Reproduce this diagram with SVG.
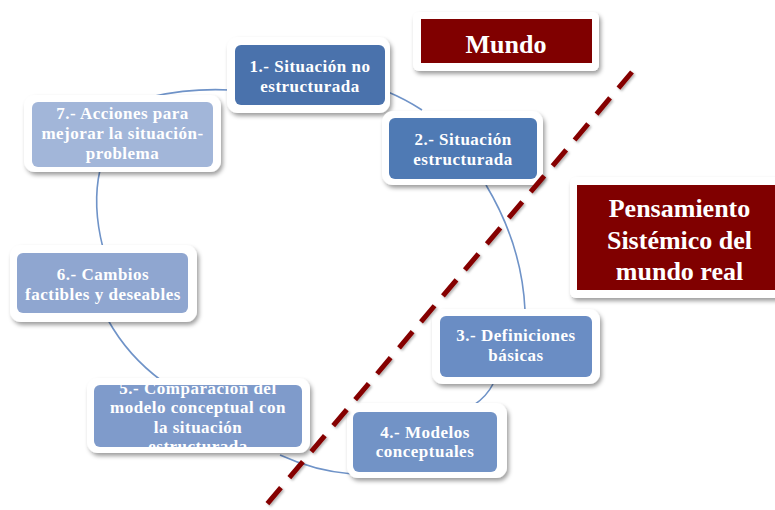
<svg xmlns="http://www.w3.org/2000/svg" width="775" height="510" viewBox="0 0 775 510">
  <defs>
    <filter id="shadow" x="-10%" y="-15%" width="125%" height="140%">
      <feDropShadow dx="2" dy="3" stdDeviation="2.2" flood-color="#000" flood-opacity="0.38"/>
    </filter>
    <filter id="lineShadow" x="-5%" y="-5%" width="110%" height="110%">
      <feDropShadow dx="1.5" dy="1.5" stdDeviation="1" flood-color="#000" flood-opacity="0.3"/>
    </filter>
    <clipPath id="clip5">
      <rect x="94" y="385" width="208" height="62" rx="6"/>
    </clipPath>
  </defs>
  <style>
    .frame { fill: #ffffff; filter: url(#shadow); }
    .lbl { font-family: "Liberation Serif", "Times New Roman", serif; font-weight: bold; font-size: 17px; letter-spacing: 0.5px; fill: #ffffff; text-anchor: middle; }
    .big { font-family: "Liberation Serif", "Times New Roman", serif; font-weight: bold; font-size: 26px; fill: #ffffff; text-anchor: middle; }
    .arc { fill: none; stroke: #6f93c8; stroke-width: 1.6; }
    .cut { fill: none; stroke: #850000; stroke-width: 5; stroke-dasharray: 21 13; filter: url(#lineShadow); }
  </style>

  <!-- cycle connectors -->
  <g id="connectors">
    <path class="arc" d="M150,97 Q190,88 230,90"/>
    <path class="arc" d="M388,92 Q405,99 422,110"/>
    <path class="arc" d="M486,185 Q522,245 525,310"/>
    <path class="arc" d="M493,384 Q487,396 474,405"/>
    <path class="arc" d="M280,455 Q315,471 352,474"/>
    <path class="arc" d="M108,320 Q128,356 162,381"/>
    <path class="arc" d="M100,170 Q92,205 103,248"/>
  </g>

  <g id="node1">
    <rect class="frame" x="227" y="37" width="163" height="76" rx="11"/>
    <rect x="235" y="45" width="150" height="60" rx="6" fill="#4a72ac"/>
    <text class="lbl" x="310" y="72">1.- Situación no</text>
    <text class="lbl" x="310" y="91.5">estructurada</text>
  </g>

  <g id="node2">
    <rect class="frame" x="382" y="111" width="161" height="74" rx="11"/>
    <rect x="389" y="118" width="148" height="61" rx="6" fill="#4f7ab4"/>
    <text class="lbl" x="463" y="144.5">2.- Situación</text>
    <text class="lbl" x="463" y="164.5">estructurada</text>
  </g>

  <g id="node3">
    <rect class="frame" x="432" y="309" width="168" height="75" rx="11"/>
    <rect x="440" y="316" width="152" height="61" rx="6" fill="#6a8dc4"/>
    <text class="lbl" x="516" y="341">3.- Definiciones</text>
    <text class="lbl" x="516" y="360.5">básicas</text>
  </g>

  <g id="node4">
    <rect class="frame" x="347" y="403" width="160" height="75" rx="11"/>
    <rect x="353" y="412" width="144" height="60" rx="6" fill="#7293c6"/>
    <text class="lbl" x="425" y="438">4.- Modelos</text>
    <text class="lbl" x="425" y="457">conceptuales</text>
  </g>

  <g id="node5">
    <rect class="frame" x="87" y="378" width="223" height="75" rx="11"/>
    <rect x="94" y="385" width="208" height="62" rx="6" fill="#7f9bcb"/>
    <g clip-path="url(#clip5)">
      <text class="lbl" x="198" y="393.5">5.- Comparación del</text>
      <text class="lbl" x="198" y="413">modelo conceptual con</text>
      <text class="lbl" x="198" y="432.5">la situación</text>
      <text class="lbl" x="198" y="452">estructurada</text>
    </g>
  </g>

  <g id="node6">
    <rect class="frame" x="10" y="245" width="187" height="77" rx="11"/>
    <rect x="17" y="253" width="171" height="60" rx="6" fill="#8fa6d0"/>
    <text class="lbl" x="103" y="280">6.- Cambios</text>
    <text class="lbl" x="103" y="300">factibles y deseables</text>
  </g>

  <g id="node7">
    <rect class="frame" x="24" y="95" width="197" height="77" rx="11"/>
    <rect x="32" y="102" width="181" height="65" rx="6" fill="#a2b6d9"/>
    <text class="lbl" x="122.5" y="119">7.- Acciones para</text>
    <text class="lbl" x="122.5" y="139">mejorar la situación-</text>
    <text class="lbl" x="122.5" y="158.5">problema</text>
  </g>

  <g id="mundo">
    <rect class="frame" x="413" y="12" width="186" height="59" rx="6"/>
    <rect x="421" y="19" width="171" height="44" fill="#800000"/>
    <text class="big" x="506" y="53">Mundo</text>
  </g>

  <g id="pensamiento">
    <rect class="frame" x="570" y="177" width="220" height="121" rx="6"/>
    <rect x="577" y="185" width="210" height="105" fill="#800000"/>
    <text class="big" x="679.5" y="217">Pensamiento</text>
    <text class="big" x="679.5" y="249">Sistémico del</text>
    <text class="big" x="679.5" y="280">mundo real</text>
  </g>

  <!-- boundary between the real world and systems thinking -->
  <g id="boundary">
    <line class="cut" x1="632" y1="72" x2="262" y2="510"/>
  </g>
</svg>
